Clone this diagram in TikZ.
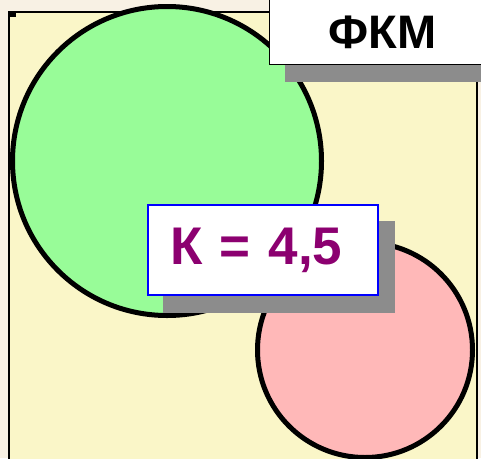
\documentclass[tikz,border=0pt]{standalone}
\usepackage{fontspec}
\setmainfont{Liberation Sans}
\usetikzlibrary{backgrounds}
\definecolor{outside}{RGB}{248,241,228}
\definecolor{paper}{RGB}{250,246,200}
\definecolor{lightgreen}{RGB}{152,252,152}
\definecolor{lightpink}{RGB}{255,184,184}
\definecolor{plum}{RGB}{140,0,112}
\tikzset{
  disc/.style={circle,draw=black,line width=5pt,inner sep=0pt},
  label box/.style={draw,fill=white,inner ysep=0pt,align=left,anchor=west},
  box shadow/.style={fill=gray!90}
}
\begin{document}
\begin{tikzpicture}[x=1pt,y=-1pt]
\useasboundingbox (0,0) rectangle (481,458);
% labels
\node[label box,line width=1.3pt,inner xsep=59pt,text width=130pt,minimum height=65pt,
  font=\fontsize{47}{47}\bfseries] (fkm) at (269,32) {ФКМ};
\node[label box,draw=blue,line width=2pt,inner xsep=22pt,text width=186pt,minimum height=90pt,
  text=plum,font=\fontsize{53}{53}\bfseries] (k) at (147,250) {К = 4,5};
\begin{scope}[on background layer]
\fill[outside] (0,0) rectangle (481,458);
\begin{scope}
\clip (0,0) rectangle (481,458);
\draw[fill=paper,line width=1.2pt] (9,12) rectangle (477,470);
\end{scope}
\fill (9,12) rectangle (16,17);
% circles
\node[disc,fill=lightgreen,minimum size=309pt] (green) at (167,161) {};
\node[disc,fill=lightpink,minimum size=215pt] (pink) at (365,350) {};
% shadows
\fill[box shadow] ([shift={(16,17)}]fkm.south west) rectangle ([shift={(16,17)}]fkm.north east);
\fill[box shadow] ([shift={(16,17)}]k.south west) rectangle ([shift={(16,17)}]k.north east);
\end{scope}
\end{tikzpicture}
\end{document}
